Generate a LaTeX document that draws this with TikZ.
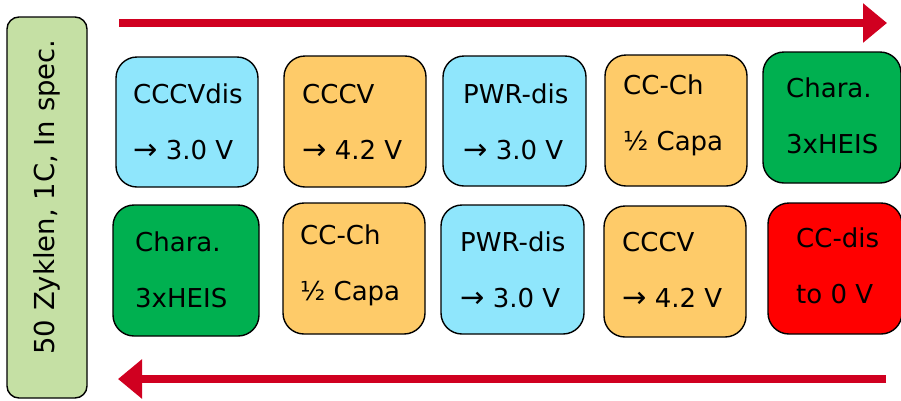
\documentclass[tikz,border=0pt]{standalone}
\usepackage{fontspec}
\setmainfont{DejaVu Sans}
\usetikzlibrary{arrows.meta}
\definecolor{cblue}{HTML}{8FE6FC}
\definecolor{corange}{HTML}{FECB69}
\definecolor{cgreen}{HTML}{00B050}
\definecolor{cred}{HTML}{FF0000}
\definecolor{cside}{HTML}{C5E0A4}
\definecolor{carrow}{HTML}{D00020}
\tikzset{
  stepbox/.style={draw=black, line width=1.4pt, rounded corners=21pt, inner sep=0pt},
  lbl/.style={anchor=west, align=left, inner sep=0pt, font=\fontsize{26}{56}\selectfont},
  flow/.style={carrow, line width=7.5pt, -{Triangle[width=38pt,length=24pt]}},
}
\newcommand{\arr}{{\fontsize{29}{56}\selectfont →}}
\begin{document}
\begin{tikzpicture}[x=1pt,y=-1pt]
\useasboundingbox (0,0) rectangle (901,400);
% side box
\node[draw=black, line width=1.4pt, rounded corners=12pt, fill=cside,
      minimum width=80pt, minimum height=381pt, inner sep=0pt] (side) at (47,207.5) {};
\node[rotate=90, inner sep=0pt, font=\fontsize{27.5}{30}\selectfont] (sidetext) at (47,197) {50 Zyklen, 1C, In spec.};
% arrows
\coordinate (a1s) at (119,23);
\coordinate (a1e) at (887,23);
\coordinate (a2s) at (886,379);
\coordinate (a2e) at (118,379);
\draw[flow] (a1s) -- (a1e);
\draw[flow] (a2s) -- (a2e);
% row 1
\node[stepbox, fill=cblue,   minimum width=142pt, minimum height=130pt] (b1) at (187,122) {};
\node[stepbox, fill=corange, minimum width=142pt, minimum height=131pt] (b2) at (355,121.5) {};
\node[stepbox, fill=cblue,   minimum width=143pt, minimum height=130pt] (b3) at (514.5,121) {};
\node[stepbox, fill=corange, minimum width=142pt, minimum height=131pt] (b4) at (676,120.5) {};
\node[stepbox, fill=cgreen,  minimum width=138pt, minimum height=131pt] (b5) at (832,117.5) {};
\node[lbl] (t1) at (133,121.5) {CCCVdis\\\arr{} 3.0 V};
\node[lbl] (t2) at (302,121.5) {CCCV\\\arr{} 4.2 V};
\node[lbl] (t3) at (463,121.5) {PWR-dis\\\arr{} 3.0 V};
\node[lbl] (t4) at (623,115) {CC-Ch\\½ Capa};
\node[lbl] (t5) at (786,115.5) {Chara.\\3xHEIS};
% row 2
\node[stepbox, fill=cgreen,  minimum width=146pt, minimum height=131pt] (c1) at (186,270.5) {};
\node[stepbox, fill=corange, minimum width=142pt, minimum height=131pt] (c2) at (354,268.5) {};
\node[stepbox, fill=cblue,   minimum width=143pt, minimum height=129pt] (c3) at (512.5,269.5) {};
\node[stepbox, fill=corange, minimum width=142pt, minimum height=131pt] (c4) at (675,271.5) {};
\node[stepbox, fill=cred,    minimum width=134pt, minimum height=131pt] (c5) at (835,268.5) {};
\node[lbl] (u1) at (135,269.5) {Chara.\\3xHEIS};
\node[lbl] (u2) at (300,265) {CC-Ch\\½ Capa};
\node[lbl] (u3) at (460,269.5) {PWR-dis\\\arr{} 3.0 V};
\node[lbl] (u4) at (622,270) {CCCV\\\arr{} 4.2 V};
\node[lbl] (u5) at (796,266) {CC-dis\\to 0 V};
\end{tikzpicture}
\end{document}
